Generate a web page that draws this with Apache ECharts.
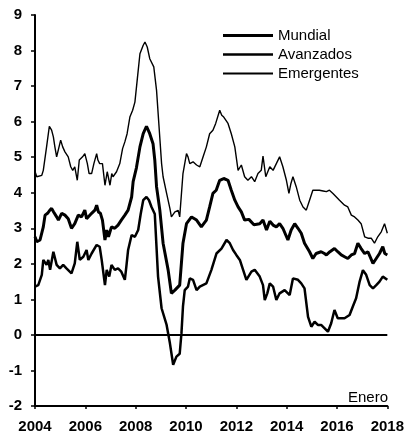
<!DOCTYPE html>
<html><head><meta charset="utf-8">
<script src="https://cdn.jsdelivr.net/npm/echarts@6/dist/echarts.min.js"></script>
<style>html,body{margin:0;padding:0;background:#fff}#c{width:407px;height:434px}</style>
</head><body><div id="c"></div>
<script>
const seriesNames = ['Mundial', 'Avanzados', 'Emergentes'];
const xTicks = [2004, 2006, 2008, 2010, 2012, 2014, 2016, 2018];
const yTicks = [-2, -1, 0, 1, 2, 3, 4, 5, 6, 7, 8, 9];
const noteLabel = 'Enero';

const emergentes = [[2004.0,4.6],[2004.07,4.45],[2004.27,4.49],[2004.33,4.63],[2004.46,5.29],[2004.57,5.87],[2004.66,5.76],[2004.73,5.57],[2004.79,5.29],[2004.86,5.01],[2004.93,4.96],[2005.02,5.48],[2005.1,5.29],[2005.19,5.15],[2005.32,5.01],[2005.42,4.73],[2005.5,4.63],[2005.58,4.73],[2005.68,4.35],[2005.76,4.92],[2005.89,5.01],[2005.98,5.1],[2006.08,4.82],[2006.15,4.54],[2006.25,4.54],[2006.34,4.82],[2006.45,5.1],[2006.5,4.92],[2006.57,4.82],[2006.68,4.82],[2006.78,4.21],[2006.87,4.59],[2006.98,4.21],[2007.05,4.54],[2007.1,4.45],[2007.24,4.59],[2007.37,4.82],[2007.48,5.24],[2007.57,5.43],[2007.66,5.66],[2007.77,6.13],[2007.88,6.32],[2007.97,6.55],[2008.06,7.16],[2008.17,7.91],[2008.3,8.15],[2008.37,8.24],[2008.46,8.1],[2008.56,7.77],[2008.72,7.54],[2008.83,6.88],[2008.93,5.85],[2009.03,4.82],[2009.09,4.45],[2009.23,3.98],[2009.36,3.56],[2009.42,3.32],[2009.56,3.46],[2009.69,3.5],[2009.75,3.32],[2009.88,4.54],[2010.02,5.1],[2010.08,5.01],[2010.15,4.82],[2010.28,4.87],[2010.42,4.78],[2010.55,4.73],[2010.68,5.01],[2010.81,5.29],[2010.94,5.66],[2011.07,5.76],[2011.18,5.95],[2011.34,6.32],[2011.42,6.18],[2011.5,6.13],[2011.67,5.95],[2011.8,5.66],[2011.94,5.29],[2012.07,4.63],[2012.2,4.78],[2012.33,4.45],[2012.46,4.35],[2012.6,4.45],[2012.73,4.31],[2012.86,4.54],[2012.99,4.63],[2013.06,5.03],[2013.17,4.45],[2013.33,4.73],[2013.46,4.63],[2013.59,4.82],[2013.72,5.01],[2013.85,4.73],[2013.99,4.35],[2014.09,3.98],[2014.17,4.26],[2014.25,4.45],[2014.38,4.17],[2014.52,3.79],[2014.65,3.6],[2014.78,3.51],[2014.91,3.79],[2015.04,4.07],[2015.1,4.12],[2015.3,4.07],[2015.45,4.05],[2015.58,4.03],[2015.7,4.07],[2015.84,3.98],[2016.1,3.79],[2016.3,3.65],[2016.43,3.6],[2016.57,3.37],[2016.7,3.32],[2016.83,3.23],[2016.96,3.13],[2017.1,2.76],[2017.23,2.72],[2017.36,2.72],[2017.49,2.58],[2017.62,2.76],[2017.76,2.9],[2017.89,3.13],[2018.0,2.86]];

const mundial = [[2004.0,2.76],[2004.07,2.62],[2004.2,2.67],[2004.33,3.04],[2004.4,3.37],[2004.5,3.42],[2004.58,3.5],[2004.66,3.56],[2004.74,3.46],[2004.86,3.32],[2004.93,3.23],[2005.06,3.42],[2005.19,3.37],[2005.32,3.27],[2005.45,3.0],[2005.58,3.13],[2005.72,3.37],[2005.85,3.32],[2005.98,3.51],[2006.05,3.27],[2006.12,3.23],[2006.25,3.42],[2006.38,3.51],[2006.45,3.65],[2006.52,3.46],[2006.6,3.42],[2006.68,3.23],[2006.78,2.67],[2006.85,2.95],[2006.92,2.76],[2007.04,3.04],[2007.17,3.0],[2007.3,3.09],[2007.43,3.23],[2007.57,3.37],[2007.7,3.51],[2007.84,3.88],[2007.9,4.31],[2008.03,4.7],[2008.17,5.29],[2008.3,5.66],[2008.43,5.87],[2008.56,5.66],[2008.69,5.38],[2008.76,4.92],[2008.83,4.17],[2008.96,3.51],[2009.09,2.58],[2009.29,1.83],[2009.42,1.17],[2009.56,1.26],[2009.75,1.4],[2009.88,2.58],[2010.02,3.13],[2010.22,3.32],[2010.42,3.23],[2010.61,3.04],[2010.81,3.23],[2010.94,3.6],[2011.07,3.98],[2011.2,4.07],[2011.34,4.35],[2011.5,4.4],[2011.67,4.35],[2011.8,4.07],[2011.94,3.79],[2012.07,3.6],[2012.2,3.46],[2012.33,3.23],[2012.5,3.25],[2012.7,3.1],[2012.93,3.13],[2013.06,3.23],[2013.2,2.95],[2013.33,3.2],[2013.46,3.09],[2013.59,3.04],[2013.72,3.13],[2013.85,3.0],[2014.05,2.67],[2014.18,2.95],[2014.32,3.13],[2014.45,3.0],[2014.58,2.86],[2014.71,2.58],[2014.91,2.34],[2015.04,2.15],[2015.17,2.29],[2015.37,2.34],[2015.5,2.29],[2015.58,2.25],[2015.72,2.34],[2015.9,2.43],[2016.03,2.34],[2016.17,2.25],[2016.3,2.2],[2016.43,2.15],[2016.57,2.25],[2016.7,2.29],[2016.83,2.58],[2016.96,2.43],[2017.1,2.29],[2017.23,2.34],[2017.43,2.01],[2017.56,2.15],[2017.69,2.29],[2017.82,2.48],[2017.9,2.29],[2018.0,2.25]];

const avanzados = [[2004.0,1.36],[2004.13,1.4],[2004.27,1.69],[2004.33,2.11],[2004.46,1.97],[2004.53,2.11],[2004.6,1.83],[2004.73,2.34],[2004.86,1.97],[2004.99,1.87],[2005.12,1.97],[2005.25,1.87],[2005.45,1.73],[2005.58,2.01],[2005.68,2.62],[2005.78,2.11],[2005.92,2.2],[2006.05,2.39],[2006.12,2.11],[2006.25,2.29],[2006.45,2.53],[2006.57,2.48],[2006.65,2.11],[2006.78,1.4],[2006.85,1.83],[2006.95,1.64],[2007.04,1.97],[2007.17,1.83],[2007.3,1.87],[2007.43,1.78],[2007.57,1.55],[2007.63,1.92],[2007.7,2.39],[2007.84,2.81],[2007.97,2.76],[2008.1,2.95],[2008.2,3.4],[2008.3,3.79],[2008.43,3.88],[2008.53,3.79],[2008.63,3.6],[2008.76,3.4],[2008.89,1.64],[2009.03,0.75],[2009.23,0.28],[2009.36,-0.23],[2009.49,-0.84],[2009.62,-0.61],[2009.75,-0.53],[2009.82,0.05],[2009.88,0.8],[2009.95,1.26],[2010.08,1.36],[2010.15,1.59],[2010.28,1.55],[2010.42,1.26],[2010.55,1.36],[2010.81,1.45],[2011.01,1.83],[2011.21,2.29],[2011.41,2.43],[2011.61,2.67],[2011.74,2.58],[2011.87,2.39],[2012.0,2.25],[2012.14,2.11],[2012.27,1.83],[2012.4,1.55],[2012.6,1.78],[2012.73,1.83],[2012.93,1.64],[2013.06,1.4],[2013.13,0.98],[2013.23,1.17],[2013.33,1.45],[2013.46,1.36],[2013.59,0.98],[2013.72,1.17],[2013.92,1.26],[2014.12,1.12],[2014.25,1.59],[2014.45,1.55],[2014.58,1.45],[2014.71,1.31],[2014.85,0.51],[2014.98,0.23],[2015.11,0.37],[2015.24,0.28],[2015.37,0.28],[2015.5,0.19],[2015.64,0.09],[2015.77,0.33],[2015.9,0.7],[2016.03,0.47],[2016.3,0.47],[2016.5,0.56],[2016.63,0.8],[2016.76,1.03],[2016.9,1.5],[2017.03,1.82],[2017.16,1.69],[2017.3,1.4],[2017.43,1.31],[2017.56,1.4],[2017.69,1.5],[2017.82,1.64],[2018.0,1.55]];

const chart = echarts.init(document.getElementById('c'), null, {renderer: 'canvas'});
const labelFont = {color: '#000', fontFamily: 'Liberation Sans, Arial, sans-serif', fontSize: 15, fontWeight: 'bold'};
const legendFont = 'Liberation Sans, Arial, sans-serif';
const widths = [3, 2.5, 1.4];
const legendThick = [3, 2.6, 1.8];
const datas = [mundial, avanzados, emergentes];

function bar(t) {
  const y0 = (14 - t) / 2;
  return 'path://M0,0h0.01v0.01h-0.01z M0,' + y0 + 'h50v' + t + 'h-50z M49.99,13.99h0.01v0.01h-0.01z';
}

chart.setOption({
  animation: false,
  backgroundColor: '#fff',
  grid: {left: 35, right: 19, top: 15, bottom: 27},
  legend: {
    orient: 'vertical', left: 218, top: 23, itemGap: 4,
    itemWidth: 50, itemHeight: 14,
    textStyle: {color: '#000', fontFamily: legendFont, fontSize: 15},
    data: seriesNames.map((n, i) => ({name: n, icon: bar(legendThick[i])}))
  },
  xAxis: {
    type: 'value', min: xTicks[0], max: xTicks[xTicks.length - 1], interval: 2,
    axisLine: {onZero: false, lineStyle: {color: '#000', width: 2}},
    axisTick: {show: true, length: 3, lineStyle: {color: '#000', width: 1.5}},
    axisLabel: Object.assign({margin: 13, formatter: v => String(v)}, labelFont),
    splitLine: {show: false}
  },
  yAxis: {
    type: 'value', min: yTicks[0], max: yTicks[yTicks.length - 1], interval: 1,
    axisLine: {show: true, lineStyle: {color: '#000', width: 2}},
    axisTick: {show: true, length: 4, lineStyle: {color: '#000', width: 1.5}},
    axisLabel: Object.assign({margin: 13}, labelFont),
    splitLine: {show: false}
  },
  series: seriesNames.map((n, i) => ({
    name: n, type: 'line', data: datas[i], symbol: 'none', showSymbol: false,
    lineStyle: {color: '#000', width: widths[i]}, itemStyle: {color: '#000'},
    markLine: i === 0 ? {silent: true, symbol: 'none', label: {show: false},
      lineStyle: {color: '#000', width: 2, type: 'solid'}, data: [{yAxis: 0}]} : undefined
  })),
  graphic: [{
    type: 'text', right: 19, top: 390,
    style: {text: noteLabel, fill: '#000', font: '15px ' + legendFont}
  }]
});
</script></body></html>
